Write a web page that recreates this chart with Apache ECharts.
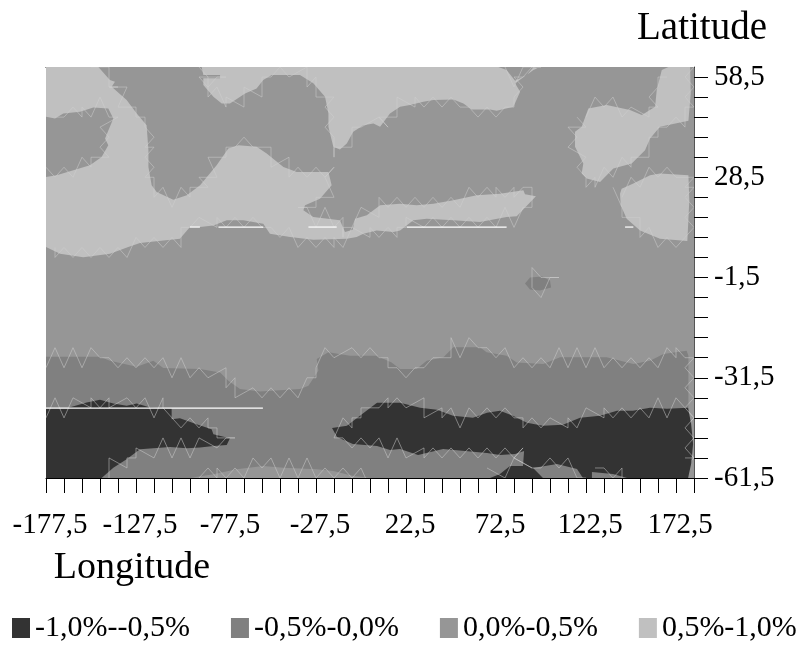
<!DOCTYPE html>
<html><head><meta charset="utf-8">
<style>html,body{margin:0;padding:0;background:#fff}#c{width:803px;height:645px}</style>
<script src="https://cdn.jsdelivr.net/npm/echarts@6/dist/echarts.min.js"></script>
</head><body><div id="c"></div>
<script>
const legendNames = ['-1,0%--0,5%', '-0,5%-0,0%', '0,0%-0,5%', '0,5%-1,0%'];
const classColors = ['#333333', '#808080', '#969696', '#c0c0c0'];
const lonTicks = [-177.5,-167.5,-157.5,-147.5,-137.5,-127.5,-117.5,-107.5,-97.5,-87.5,-77.5,-67.5,-57.5,-47.5,-37.5,-27.5,-17.5,-7.5,2.5,12.5,22.5,32.5,42.5,52.5,62.5,72.5,82.5,92.5,102.5,112.5,122.5,132.5,142.5,152.5,162.5,172.5,182.5];
const lonLabels = [-177.5,-127.5,-77.5,-27.5,22.5,72.5,122.5,172.5];
const latTicks = [-61.5,-55.5,-49.5,-43.5,-37.5,-31.5,-25.5,-19.5,-13.5,-7.5,-1.5,4.5,10.5,16.5,22.5,28.5,34.5,40.5,46.5,52.5,58.5];
const latLabels = [-61.5,-31.5,-1.5,28.5,58.5];

// Contour regions as [longitude, latitude] outlines
const base = [[-177.5,61.5],[182.5,61.5],[182.5,-61.5],[-177.5,-61.5]];
const lightWest = [[-148.4,61.5],[-142,57.6],[-139.2,57.1],[-141,55.6],[-132.7,51.6],[-127.1,47.6],[-121.6,44.1],[-120.6,36.6],[-120.6,31.6],[-118.8,26.1],[-116,24.1],[-106.8,21.8],[-99.3,23.1],[-91.9,26.1],[-82.7,32.1],[-76.2,37.1],[-70.6,38.1],[-60.5,37.6],[-54.9,35.6],[-45.6,31.6],[-38.2,30.1],[-20.6,30.1],[-18.8,26.1],[-25.3,22.1],[-33.6,20.1],[-34.5,18.6],[-29,16.6],[-14.2,15.6],[-11.4,12.1],[-7.1,12.8],[-5.8,16.1],[0.7,17.1],[8.1,20.1],[19.2,20.6],[28.4,20.1],[37.7,20.6],[48.8,21.6],[61.8,23.1],[74.7,23.6],[87.7,24.6],[88.6,23.4],[94.7,22.8],[84,16.8],[78.4,16.6],[63.6,15.1],[48.8,15.6],[34,16.1],[26.6,15.6],[19.2,12.6],[15.5,12.1],[6.2,12.6],[-1.2,11.6],[-4.9,10.6],[-10.4,10.1],[-29,9.8],[-41.9,10.6],[-53.1,11.6],[-56.8,14.6],[-67.9,15.6],[-77.1,15.6],[-84.5,14.1],[-91.9,13.6],[-97.5,13.6],[-103.1,10.1],[-112.3,9.6],[-125.3,8.8],[-131.8,7.6],[-141.9,5.6],[-156.8,4.6],[-169.7,5.6],[-177.5,7.6],[-177.5,28.6],[-171.6,29.1],[-162.3,30.6],[-153.1,32.1],[-146.6,34.6],[-142.9,38.1],[-144.7,40.1],[-140.1,46.1],[-142.9,49.1],[-151.2,49.4],[-158.6,48.1],[-167.9,47.6],[-172.5,46.1],[-177.5,46.6],[-177.5,61.5]];
const lightNorth = [[-91,61.5],[-90.1,59.1],[-80.8,59.1],[-80.8,58.1],[-90.1,58.1],[-90.1,56.1],[-84.5,52.6],[-79.9,50.6],[-75.3,50.6],[-66.9,53.6],[-60.5,55.1],[-56.8,57.6],[-52.1,59.1],[-43.8,59.1],[-36.4,59.1],[-29,56.6],[-22.5,52.6],[-20.6,47.6],[-20.6,43.6],[-17.9,37.6],[-14.2,36.8],[-10.4,38.6],[-6.8,42.1],[-1.2,44.1],[4.4,44.6],[8.1,43.6],[13.6,47.6],[19.2,49.6],[24.7,50.1],[32.1,51.1],[37.7,51.6],[48.8,51.8],[54.4,50.6],[59,48.8],[69.2,48.8],[72.9,48.4],[82.2,49.6],[85.9,54.1],[83.1,56.6],[93.3,60.6],[95.5,61.1],[93.3,61.4],[89.6,59.1],[83.1,57.4],[78.4,60.6],[73.8,61.5]];
const lightEast = [[123.8,49.1],[134,50.1],[146.9,48.6],[153.5,47.1],[160.9,49.6],[161.8,54.6],[164.6,60.6],[168.3,61.5],[180.3,61.5],[180.7,53.6],[179.4,45.4],[163.6,43.6],[158.1,40.1],[155.3,36.6],[147.9,32.6],[137.7,31.1],[130.3,27.1],[122.9,28.1],[120.1,29.6],[121,32.6],[116.4,37.6],[116.4,42.1],[120.1,43.6]];
const lightPacific = [[142.3,25.1],[148.8,26.6],[158.1,29.1],[163.6,29.6],[179.4,29.1],[179.9,21.6],[178.8,9.4],[163.6,10.1],[152.5,12.6],[145.1,16.1],[141.8,20.1],[141.4,23.6]];
const midIsland = [[88.6,-3.3],[91.4,-1.5],[98.1,-1.2],[102.5,-2.4],[103.1,-4.5],[96.9,-5.4],[91.4,-5.1]];
const midSouth = [[-177.5,-25.2],[-147.5,-25.2],[-142,-26.4],[-127.1,-28.2],[-117.9,-26.4],[-112.3,-28.6],[-91.9,-28.9],[-80.8,-29.9],[-76.2,-32.4],[-69.7,-34.9],[-58.6,-35.6],[-36.4,-34.9],[-31.7,-33.9],[-26.2,-29.4],[-27.1,-25.9],[-20.6,-23.9],[-8.6,-24.9],[6.2,-24.9],[14.5,-26.9],[19.2,-28.9],[28.4,-28.9],[34,-26.4],[43.3,-25.4],[48.8,-22.4],[63.6,-22.4],[67.3,-23.9],[78.4,-24.9],[84,-26.9],[98.8,-27.4],[108.1,-25.4],[134,-25.4],[148.8,-27.4],[158.1,-26.4],[165.5,-24.4],[178.4,-23.4],[179.4,-24.9],[179.4,-61.5],[3.4,-61.5],[-6.7,-60.9],[-17.9,-59.4],[-27.1,-58.9],[-45.6,-58.4],[-56.8,-57.9],[-71.6,-58.9],[-84.5,-60.4],[-97.5,-61.5],[-177.5,-61.5]];
const darkWest = [[-177.5,-40.6],[-166,-40.6],[-154.9,-38.9],[-147.5,-38.1],[-140.1,-39.2],[-132.7,-39.9],[-127.1,-39.2],[-119.7,-40.4],[-107.7,-40.6],[-107.7,-43.9],[-103.1,-43.6],[-93.8,-45.4],[-85.5,-46.9],[-84.5,-48.4],[-75.3,-49.6],[-77.1,-51.6],[-84.5,-51.9],[-91.9,-52.4],[-99.3,-52.6],[-108.6,-52.2],[-125.3,-52.9],[-132.7,-55.9],[-140.1,-58.4],[-146.6,-61.5],[-177.5,-61.5]];
const darkEast = [[-18.6,-46.5],[-10.3,-45.9],[-3.1,-42.9],[6.4,-39],[19.2,-39],[30.3,-40.5],[39.7,-41.1],[48.6,-42.9],[59.7,-43.5],[67.5,-42],[74.7,-41.4],[81.9,-42.9],[89.7,-45],[98.6,-45.9],[109.7,-45.6],[119.2,-43.5],[130.3,-42.9],[139.7,-41.4],[148.6,-41.4],[158.1,-40.5],[167.5,-40.8],[179.2,-40.5],[180.9,-45.3],[182,-51.3],[180.9,-57.3],[179.2,-61.5],[145.3,-61.5],[137.5,-60.3],[125.8,-59.7],[125.8,-61.5],[120.8,-61.5],[117.5,-58.8],[106.4,-57.3],[93.1,-58.5],[98.6,-61.5],[69.2,-61.5],[74.7,-60.3],[80.3,-57.9],[87.5,-57.9],[88.1,-53.4],[83.1,-54.3],[74.7,-54.6],[67.5,-54],[43.1,-52.8],[29.2,-54.6],[19.2,-52.8],[13.6,-53.1],[6.4,-51.9],[-7,-51.3],[-15.8,-49.2]];
// Gaps in the mesh that show as white strokes: [lonStart, lonEnd, lat]
const whiteGaps = [[-177.5,-57,-40.6],[-97.5,-92,13.6],[-81.7,-56.8,13.6],[-31.7,-16,13.6],[22.9,78.4,13.6],[144.2,148.8,13.6]];

const LON_MIN = -177.5, LON_MAX = 182.5, LAT_MIN = -61.5, LAT_MAX = 61.5;
const MESH_LON = 5, MESH_LAT = 3;
const onFrame = p => p[0] <= LON_MIN || p[0] >= LON_MAX || p[1] <= LAT_MIN || p[1] >= LAT_MAX;

// Light triangulation strokes that follow a contour edge on the 5 x 3 degree mesh
function meshAlong(outline) {
  const lines = [];
  let flip = 1, run = [];
  const push = q => {
    const last = run[run.length - 1];
    if (!last || last[0] !== q[0] || last[1] !== q[1]) run.push(q);
  };
  outline.forEach((a, i) => {
    const b = outline[(i + 1) % outline.length];
    if (onFrame(a) && onFrame(b)) {
      if (run.length > 1) lines.push(run);
      run = [];
      return;
    }
    const u = (b[0] - a[0]) / MESH_LON, v = (b[1] - a[1]) / MESH_LAT, len = Math.hypot(u, v) || 1;
    const count = Math.max(1, Math.round(len));
    for (let k = 0; k < count; k++) {
      const t = k / count;
      flip = -flip;
      const cu = (a[0] - LON_MIN) / MESH_LON + u * t - v / len * 0.62 * flip;
      const cv = (a[1] - LAT_MIN) / MESH_LAT + v * t + u / len * 0.62 * flip;
      push([LON_MIN + Math.round(cu) * MESH_LON, LAT_MIN + Math.round(cv) * MESH_LAT]);
    }
  });
  if (run.length > 1) lines.push(run);
  return lines;
}

function regionSeries(name, color, regions, z, mesh) {
  return {
    name, type: 'custom', z, clip: true, silent: true,
    coordinateSystem: 'cartesian2d',
    itemStyle: { color },
    data: regions.map((r, i) => [r[0][0], r[0][1], i]),
    renderItem(params, api) {
      const outline = regions[api.value(2)];
      const children = [{ type: 'polygon', shape: { points: outline.map(p => api.coord(p)) }, style: { fill: color } }];
      if (mesh) meshAlong(outline).forEach(run => children.push({
        type: 'polyline', shape: { points: run.map(p => api.coord(p)) },
        style: { fill: null, stroke: 'rgba(208,208,208,0.5)', lineWidth: 1 }
      }));
      return { type: 'group', children };
    }
  };
}

const chart = echarts.init(document.getElementById('c'), null, { renderer: 'canvas' });
const font = 'Liberation Serif';
chart.setOption({
  animation: false,
  backgroundColor: '#ffffff',
  grid: { left: 46, top: 67, width: 648, height: 411 },
  legend: {
    left: 7, top: 608, width: 830, orient: 'horizontal', itemWidth: 18, itemHeight: 20, itemGap: 41,
    icon: 'rect', selectedMode: false, data: legendNames,
    textStyle: { fontFamily: font, fontSize: 30, color: '#000' }
  },
  xAxis: [{
    type: 'value', min: LON_MIN, max: LON_MAX, position: 'bottom',
    name: 'Longitude', nameLocation: 'start', nameGap: -164, nameMoveOverlap: false,
    nameTextStyle: { fontFamily: font, fontSize: 38, color: '#000', verticalAlign: 'top', padding: [71, 0, 0, 0] },
    splitLine: { show: false },
    axisLine: { onZero: false, lineStyle: { color: '#000', width: 1 } },
    axisTick: { customValues: lonTicks, length: 15, lineStyle: { color: '#000', width: 1 } },
    axisLabel: {
      customValues: lonLabels, margin: 33, hideOverlap: false, padding: [0, 0, 0, 8],
      fontFamily: font, fontSize: 29, color: '#000',
      formatter: v => Number(v).toFixed(1).replace('.', ',')
    }
  }, {
    type: 'value', min: LON_MIN, max: LON_MAX, position: 'top',
    splitLine: { show: false }, axisTick: { show: false }, axisLabel: { show: false },
    axisLine: { onZero: false, lineStyle: { color: '#000', width: 1 } }
  }],
  yAxis: {
    type: 'value', min: LAT_MIN, max: LAT_MAX, position: 'right',
    name: 'Latitude', nameLocation: 'end', nameGap: 19, nameMoveOverlap: false,
    nameTextStyle: { fontFamily: font, fontSize: 39, color: '#000', padding: [0, 0, 0, 16] },
    splitLine: { show: false },
    axisLine: { show: true, onZero: false, lineStyle: { color: '#555', width: 1 } },
    axisTick: { customValues: latTicks, length: 14, lineStyle: { color: '#000', width: 1 } },
    axisLabel: {
      customValues: latLabels, margin: 20, hideOverlap: false,
      fontFamily: font, fontSize: 29, color: '#000',
      formatter: v => Number(v).toFixed(1).replace('.', ',')
    }
  },
  series: [
    regionSeries(legendNames[2], classColors[2], [base], 1, false),
    regionSeries(legendNames[3], classColors[3], [lightWest, lightNorth, lightEast, lightPacific], 2, true),
    regionSeries(legendNames[1], classColors[1], [midSouth, midIsland], 3, true),
    regionSeries(legendNames[0], classColors[0], [darkWest, darkEast], 4, true),
    {
      name: 'gaps', type: 'custom', z: 5, silent: true, clip: true, coordinateSystem: 'cartesian2d',
      data: whiteGaps,
      renderItem(params, api) {
        const a = api.coord([api.value(0), api.value(2)]), b = api.coord([api.value(1), api.value(2)]);
        return { type: 'line', shape: { x1: a[0], y1: a[1], x2: b[0], y2: b[1] }, style: { stroke: '#fff', lineWidth: 1.2 } };
      }
    }
  ]
});
</script></body></html>
